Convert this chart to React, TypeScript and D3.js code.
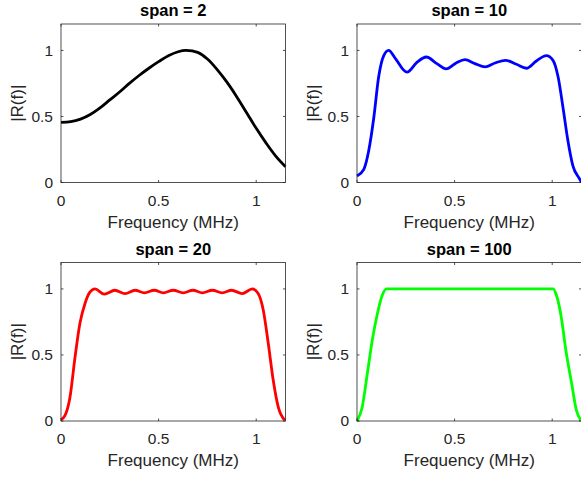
import React from "react";
import * as d3 from "d3";

// ---- data ----
const titles = ["span = 2", "span = 10", "span = 20", "span = 100"];
const colors = ["#000000", "#0000ff", "#ff0000", "#00ff00"];
const xTicks = [0, 0.5, 1];
const yTicks = [0, 0.5, 1];
const xTickLabels = ["0", "0.5", "1"];
const yTickLabels = ["0", "0.5", "1"];

const freqSpan2 = [0, 0.05, 0.1, 0.15, 0.2, 0.25, 0.3, 0.35, 0.4, 0.45, 0.5, 0.55, 0.6, 0.64, 0.7, 0.75, 0.8, 0.85, 0.9, 0.95, 1.0, 1.05, 1.1, 1.15];
const magSpan2 = [0.455, 0.46, 0.48, 0.515, 0.565, 0.625, 0.685, 0.75, 0.81, 0.865, 0.915, 0.96, 0.99, 1.0, 0.985, 0.935, 0.855, 0.76, 0.65, 0.53, 0.41, 0.3, 0.2, 0.12];

const freqSpan10 = [0, 0.035, 0.06, 0.086, 0.111, 0.137, 0.162, 0.196, 0.256, 0.307, 0.355, 0.409, 0.457, 0.508, 0.553, 0.604, 0.656, 0.707, 0.761, 0.817, 0.868, 0.919, 0.97, 1.004, 1.03, 1.055, 1.08, 1.106, 1.14, 1.15];
const magSpan10 = [0.05, 0.1, 0.24, 0.49, 0.8, 0.96, 1.0, 0.94, 0.835, 0.91, 0.95, 0.9, 0.86, 0.905, 0.93, 0.9, 0.875, 0.905, 0.925, 0.895, 0.865, 0.92, 0.96, 0.925, 0.8, 0.57, 0.32, 0.126, 0.028, 0.0];

const freqSpan20 = [0, 0.02, 0.046, 0.072, 0.097, 0.123, 0.148, 0.174, 0.222, 0.276, 0.328, 0.379, 0.427, 0.478, 0.524, 0.575, 0.626, 0.676, 0.724, 0.775, 0.826, 0.874, 0.928, 0.98, 1.01, 1.036, 1.062, 1.087, 1.113, 1.147];
const magSpan20 = [0.01, 0.04, 0.18, 0.485, 0.74, 0.89, 0.975, 1.0, 0.96, 0.99, 0.965, 0.99, 0.97, 0.99, 0.97, 0.99, 0.97, 0.99, 0.97, 0.99, 0.97, 0.99, 0.965, 1.0, 0.965, 0.84, 0.585, 0.31, 0.105, 0.005];

const freqSpan100 = [0, 0.026, 0.053, 0.078, 0.104, 0.129, 0.151, 0.5, 1.005, 1.022, 1.046, 1.07, 1.1, 1.124, 1.147];
const magSpan100 = [0, 0.1, 0.36, 0.61, 0.81, 0.95, 1.0, 1.0, 1.0, 0.95, 0.79, 0.535, 0.28, 0.08, 0.005];

const series = [
  { f: freqSpan2, m: magSpan2 },
  { f: freqSpan10, m: magSpan10 },
  { f: freqSpan20, m: magSpan20 },
  { f: freqSpan100, m: magSpan100 },
];

const xDomain: [number, number] = [0, 1.15];
const yDomain: [number, number] = [0, 1.2];

// ---- layout ----
const W = 581;
const H = 478;
const panelW = 224.5;
const panelH = 158.5;
const lefts = [61, 357];
const tops = [24, 262.5];
const axisColor = "#262626";
const font = "'Liberation Sans', Arial, Helvetica, sans-serif";

function Panel({ idx }: { idx: number }) {
  const left = lefts[idx % 2];
  const top = tops[Math.floor(idx / 2)];
  const x = d3.scaleLinear().domain(xDomain).range([0, panelW]);
  const y = d3.scaleLinear().domain(yDomain).range([panelH, 0]);
  const s = series[idx];
  const pts: [number, number][] = s.f.map((f, i) => [f, s.m[i]]);
  const line = d3
    .line<[number, number]>()
    .x((d) => x(d[0]))
    .y((d) => y(d[1]))
    .curve(idx === 0 ? d3.curveCatmullRom.alpha(0.5) : d3.curveMonotoneX);
  const tl = 2.5;
  return (
    <g transform={`translate(${left},${top})`}>
      <defs>
        <clipPath id={`clip${idx}`}>
          <rect x={-1} y={0} width={panelW + 2} height={panelH + 1} />
        </clipPath>
      </defs>
      <path
        d={line(pts) || ""}
        fill="none"
        stroke={colors[idx]}
        strokeWidth={2.8}
        strokeLinejoin="round"
        clipPath={`url(#clip${idx})`}
      />
      <rect x={0} y={0} width={panelW} height={panelH} fill="none" stroke={axisColor} strokeWidth={0.8} />
      {xTicks.map((t, i) => (
        <g key={`xt${i}`}>
          <line x1={x(t)} x2={x(t)} y1={panelH} y2={panelH - tl} stroke={axisColor} strokeWidth={0.8} />
          <line x1={x(t)} x2={x(t)} y1={0} y2={tl} stroke={axisColor} strokeWidth={0.8} />
          <text x={x(t)} y={panelH + 23} textAnchor="middle" fontFamily={font} fontSize={15.5} fill={axisColor}>
            {xTickLabels[i]}
          </text>
        </g>
      ))}
      {yTicks.map((t, i) => (
        <g key={`yt${i}`}>
          <line x1={0} x2={tl} y1={y(t)} y2={y(t)} stroke={axisColor} strokeWidth={0.8} />
          <line x1={panelW} x2={panelW - tl} y1={y(t)} y2={y(t)} stroke={axisColor} strokeWidth={0.8} />
          <text x={-8} y={y(t)} dy="0.35em" textAnchor="end" fontFamily={font} fontSize={15.5} fill={axisColor}>
            {yTickLabels[i]}
          </text>
        </g>
      ))}
      <text x={panelW / 2} y={panelH + 45} textAnchor="middle" fontFamily={font} fontSize={17} fill={axisColor}>
        Frequency (MHz)
      </text>
      <text
        transform={`translate(${-38},${panelH / 2}) rotate(-90)`}
        textAnchor="middle"
        fontFamily={font}
        fontSize={17}
        fill={axisColor}
      >
        |R(f)|
      </text>
      <text x={panelW / 2} y={-8} textAnchor="middle" fontFamily={font} fontSize={16.5} fontWeight="bold" fill="#000">
        {titles[idx]}
      </text>
    </g>
  );
}

export default function App() {
  return (
    <svg
      width={W}
      height={H}
      style={{ position: "absolute", left: 0, top: 0, background: "#fff" }}
    >
      <rect x={0} y={0} width={W} height={H} fill="#fff" />
      {[0, 1, 2, 3].map((i) => (
        <Panel key={i} idx={i} />
      ))}
    </svg>
  );
}
